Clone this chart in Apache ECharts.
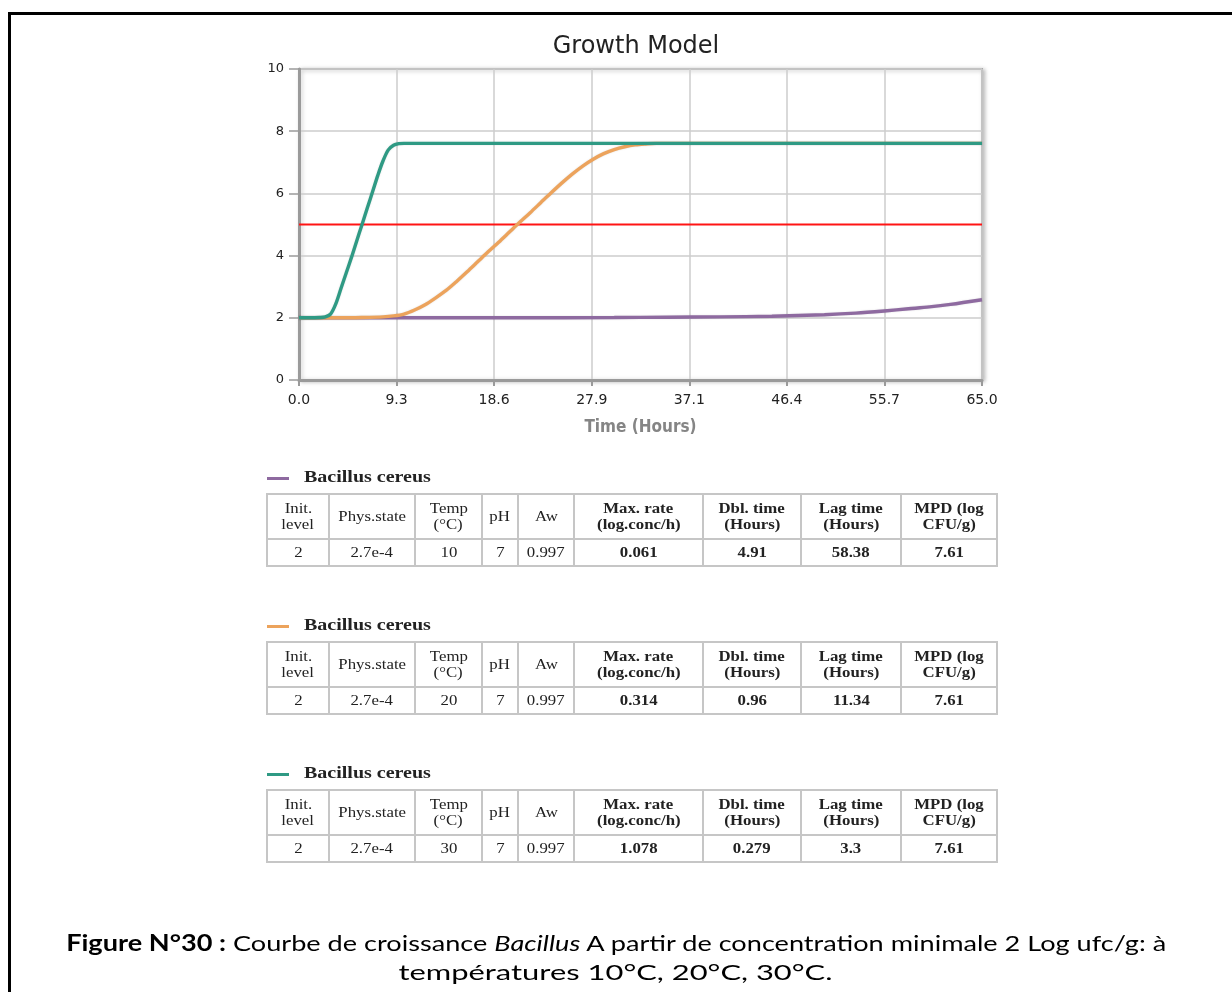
<!DOCTYPE html>
<html>
<head>
<meta charset="utf-8">
<script src="https://cdn.jsdelivr.net/npm/echarts@6/dist/echarts.min.js"></script>
<style>
  html, body { margin: 0; padding: 0; background: #fff; }
  #page { position: relative; width: 1232px; height: 992px; overflow: hidden; }
  #frame { position: absolute; left: 8px; top: 12px; width: 1300px; height: 1100px;
           border-top: 3px solid #000; border-left: 3px solid #000; }
  #chart { position: absolute; left: 0; top: 0; width: 1232px; height: 992px; }
  .block { position: absolute; left: 266px; width: 730px; font-family: "Liberation Serif", serif; color: #222; }
  .legend { height: 20px; font-size: 16px; font-weight: bold; line-height: 20px; }
  .legend .dash { display: inline-block; width: 22px; height: 3px; vertical-align: middle; margin: 0 15px 0 1px; }
  .legend .name { display: inline-block; transform: scaleX(1.25); transform-origin: left center; }
  table { border-collapse: collapse; width: 730px; margin-top: 6px; font-size: 14px; table-layout: fixed; }
  td { border: 2px solid #c6c6c6; text-align: center; padding: 0; line-height: 16px; }
  td span { display: inline-block; transform: scaleX(1.2); transform-origin: center; }
  tr.head td { height: 43px; }
  tr.vals td { height: 25px; }
  td.b { font-weight: bold; }
  #caption { position: absolute; left: 0; width: 1232px; top: 928px; text-align: center;
             font-family: Lato, "Open Sans", sans-serif; font-size: 22px; line-height: 29px; color: #000; }
  #caption .line { display: inline-block; white-space: nowrap; transform-origin: center; }
</style>
</head>
<body>
<div id="page">
  <div id="frame"></div>
  <div id="chart"></div>
  <div id="tables"></div>
  <div id="caption">
    <span class="line" id="cap1"><b>Figure N°30 :</b> Courbe de croissance <i>Bacillus</i> A partir de concentration minimale 2 Log ufc/g: à</span><br>
    <span class="line" id="cap2">températures 10°C, 20°C, 30°C.</span>
  </div>
</div>
<script>
// Time axis (hours) and log count axis
const timeMax = 65;
const timeTicks = 7;            // 7 equal steps between 0 and 65 h
const logMin = 0, logMax = 10, logStep = 2;
const limitLevel = 5;           // reference level, log CFU/g

// Growth curves, [hours, log CFU/g]
const curve10C = [
  [0, 2.0], [10, 2.0], [20, 2.0], [30, 2.01], [35, 2.02], [40, 2.03], [45, 2.05],
  [50, 2.1], [53, 2.15], [55.7, 2.22], [58, 2.29], [60, 2.35], [62, 2.43], [65, 2.58]
];
const curve20C = [
  [0, 2.0], [4, 2.0], [6, 2.01], [8, 2.03], [9, 2.06], [10, 2.12], [11, 2.25], [12, 2.42],
  [13, 2.64], [14, 2.88], [15, 3.17], [16, 3.48], [17, 3.8], [18, 4.12], [19, 4.43],
  [20, 4.75], [21, 5.07], [22, 5.38], [23, 5.7], [24, 6.02], [25, 6.33], [26, 6.62],
  [27, 6.88], [28, 7.1], [29, 7.28], [30, 7.41], [31, 7.5], [32, 7.56], [33, 7.59],
  [34, 7.61], [40, 7.61], [50, 7.61], [65, 7.61]
];
const curve30C = [
  [0, 2.0], [1, 2.0], [2, 2.01], [2.5, 2.03], [3, 2.12], [3.5, 2.45], [4, 2.95], [4.5, 3.45],
  [5, 3.95], [5.5, 4.48], [6, 5.0], [6.5, 5.53], [7, 6.05], [7.5, 6.58], [8, 7.05],
  [8.5, 7.4], [9, 7.55], [9.5, 7.6], [10, 7.61], [20, 7.61], [40, 7.61], [65, 7.61]
];

// Model parameters shown under the chart
const tableHeader = ['Init.\nlevel', 'Phys.state', 'Temp\n(°C)', 'pH', 'Aw',
  'Max. rate\n(log.conc/h)', 'Dbl. time\n(Hours)', 'Lag time\n(Hours)', 'MPD (log\nCFU/g)'];
const boldColumns = [5, 6, 7, 8];
const columnWidths = [62, 86, 67, 36, 56, 129, 98, 100, 96];
const organism = 'Bacillus cereus';
const params10C = ['2', '2.7e-4', '10', '7', '0.997', '0.061', '4.91', '58.38', '7.61'];
const params20C = ['2', '2.7e-4', '20', '7', '0.997', '0.314', '0.96', '11.34', '7.61'];
const params30C = ['2', '2.7e-4', '30', '7', '0.997', '1.078', '0.279', '3.3', '7.61'];

const colors = { c10: '#8e6aa0', c20: '#eca35c', c30: '#2f9a84', limit: '#ff1414' };

// ---- chart ----
const chart = echarts.init(document.getElementById('chart'), null, { renderer: 'canvas' });
const lineStyle = (c) => ({ color: c, width: 3.4, shadowColor: 'rgba(0,0,0,0.12)', shadowBlur: 2 });

chart.setOption({
  animation: false,
  title: {
    text: 'Growth Model', left: 631, top: 30, textAlign: 'center',
    textStyle: { fontFamily: 'DejaVu Sans', fontSize: 24, fontWeight: 'normal', color: '#222' }
  },
  grid: {
    left: 299, top: 69, right: 250, bottom: 612, show: true,
    backgroundColor: '#fff', borderColor: '#a8a8a8', borderWidth: 2,
    shadowColor: 'rgba(0,0,0,0.25)', shadowBlur: 4, shadowOffsetX: 2, shadowOffsetY: 1
  },
  xAxis: {
    type: 'value', min: 0, max: timeMax, interval: timeMax / timeTicks,
    name: 'Time (Hours)', nameLocation: 'middle', nameGap: 39,
    nameTextStyle: { fontFamily: 'DejaVu Sans Condensed', fontWeight: 'bold', fontSize: 17, color: '#858585' },
    axisLine: { show: true, lineStyle: { color: '#9a9a9a', width: 3 } },
    axisTick: { show: true, length: 6, lineStyle: { color: '#9a9a9a', width: 2 } },
    axisLabel: { margin: 13, fontFamily: 'DejaVu Sans', fontSize: 14, color: '#222',
      formatter: (v) => v.toFixed(1), showMaxLabel: true, showMinLabel: true },
    splitLine: { show: true, lineStyle: { color: '#cdcdcd', width: 1.5 } }
  },
  yAxis: {
    type: 'value', min: logMin, max: logMax, interval: logStep,
    axisLine: { show: true, lineStyle: { color: '#9a9a9a', width: 3 } },
    axisTick: { show: true, length: 10, lineStyle: { color: '#9a9a9a', width: 1.5 } },
    axisLabel: { margin: 15, fontFamily: 'DejaVu Sans', fontSize: 13, color: '#222' },
    splitLine: { show: true, lineStyle: { color: '#cdcdcd', width: 1.5 } }
  },
  series: [
    { type: 'line', name: 'limit', data: [[0, limitLevel], [timeMax, limitLevel]], showSymbol: false,
      lineStyle: { color: colors.limit, width: 2 }, silent: true },
    { type: 'line', name: '10 °C', data: curve10C, showSymbol: false, smooth: 0.3, lineStyle: lineStyle(colors.c10) },
    { type: 'line', name: '20 °C', data: curve20C, showSymbol: false, smooth: 0.3, lineStyle: lineStyle(colors.c20) },
    { type: 'line', name: '30 °C', data: curve30C, showSymbol: false, smooth: 0.3, lineStyle: lineStyle(colors.c30) }
  ]
});

// ---- parameter tables ----
function cell(text, i) {
  return '<td' + (boldColumns.includes(i) ? ' class="b"' : '') + '>' +
    text.split('\n').map(t => '<span>' + t + '</span>').join('<br>') + '</td>';
}
function buildBlock(top, color, values) {
  const div = document.createElement('div');
  div.className = 'block';
  div.style.top = top + 'px';
  let html = '<div class="legend"><span class="dash" style="background:' + color + '"></span>' +
    '<span class="name">' + organism + '</span></div>';
  html += '<table><colgroup>' + columnWidths.map(w => '<col style="width:' + w + 'px">').join('') + '</colgroup>';
  html += '<tr class="head">' + tableHeader.map(cell).join('') + '</tr>';
  html += '<tr class="vals">' + values.map(cell).join('') + '</tr>';
  html += '</table>';
  div.innerHTML = html;
  document.getElementById('tables').appendChild(div);
}
buildBlock(467, colors.c10, params10C);
buildBlock(615, colors.c20, params20C);
buildBlock(763, colors.c30, params30C);

// stretch caption lines to their set widths
function fit(id, w) {
  const el = document.getElementById(id);
  const cur = el.getBoundingClientRect().width;
  el.style.transform = 'scaleX(' + (w / cur) + ')';
}
fit('cap1', 1100);
fit('cap2', 434);
</script>
</body>
</html>
